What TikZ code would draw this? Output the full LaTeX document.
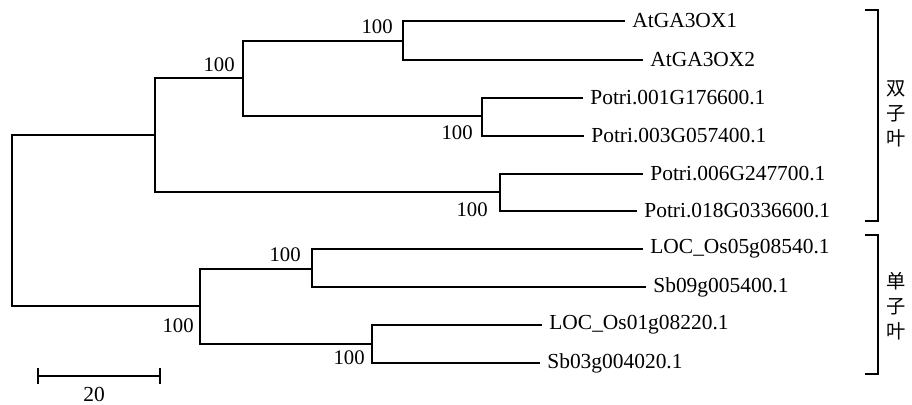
\documentclass[tikz,border=0pt]{standalone}
\usepackage{fontspec}
\setmainfont{Liberation Serif}
\newfontfamily\cjk{Noto Sans CJK SC}
\usetikzlibrary{arrows.meta}
\tikzset{br/.style={line width=1pt},
 lf/.style={anchor=west,inner sep=4pt,font=\fontsize{12.2}{14}\selectfont},
 bs/.style={anchor=east,inner sep=0pt,font=\fontsize{11.8}{14}\selectfont},
 grp/.style={line width=.9pt},
 gtxt/.style={align=center,inner sep=0pt,font=\cjk\fontsize{11}{14.2}\selectfont}}
\begin{document}
\begin{tikzpicture}[x=0.02cm,y=-0.02cm]
\useasboundingbox (0,0) rectangle (912,405);
% inner nodes of the tree
\coordinate (r) at (12,220);
\coordinate (a) at (155,135);
\coordinate (b) at (243,78);
\coordinate (c) at (403,41);
\coordinate (e) at (482,116);
\coordinate (d) at (500,192);
\coordinate (f) at (200,306);
\coordinate (g) at (312,269);
\coordinate (h) at (372,344);
% leaves
\node[lf] (l1) at (625,21) {AtGA3OX1};
\node[lf] (l2) at (643,60) {AtGA3OX2};
\node[lf] (l3) at (583,98) {Potri.001G176600.1};
\node[lf] (l4) at (584,136) {Potri.003G057400.1};
\node[lf] (l5) at (643,174) {Potri.006G247700.1};
\node[lf] (l6) at (637,211) {Potri.018G0336600.1};
\node[lf] (l7) at (643,249) {LOC\_Os05g08540.1};
\node[lf] (l8) at (646,287) {Sb09g005400.1};
\node[lf] (l9) at (542,325) {LOC\_Os01g08220.1};
\node[lf] (l10) at (540,363) {Sb03g004020.1};
% branches
\draw[br] (r) |- (a); \draw[br] (r) |- (f);
\draw[br] (a) |- (b); \draw[br] (a) |- (d);
\draw[br] (b) |- (c); \draw[br] (b) |- (e);
\draw[br] (c) |- (l1.west); \draw[br] (c) |- (l2.west);
\draw[br] (e) |- (l3.west); \draw[br] (e) |- (l4.west);
\draw[br] (d) |- (l5.west); \draw[br] (d) |- (l6.west);
\draw[br] (f) |- (g); \draw[br] (f) |- (h);
\draw[br] (g) |- (l7.west); \draw[br] (g) |- (l8.west);
\draw[br] (h) |- (l9.west); \draw[br] (h) |- (l10.west);
% bootstrap values
\node[bs] (bc) at (393,27) {100};
\node[bs] (bb) at (235,65) {100};
\node[bs] (be) at (473,133) {100};
\node[bs] (bd) at (488,210) {100};
\node[bs] (bg) at (301,255) {100};
\node[bs] (bf) at (194,326) {100};
\node[bs] (bh) at (365,358) {100};
% scale bar
\coordinate (s1) at (37,376);
\coordinate (s2) at (161,376);
\draw[br,{Bar[width=9pt]}-{Bar[width=9pt]}] (s1) -- (s2);
\node[font=\fontsize{12.2}{14}\selectfont,inner sep=0pt] (sl) at (94,394) {20};
% groups
\draw[grp] (865,10) -- (878,10) -- (878,221) -- (865,221);
\node[gtxt] (gd) at (896,114) {双\\子\\叶};
\draw[grp] (865,235) -- (878,235) -- (878,374) -- (865,374);
\node[gtxt] (gm) at (896,306) {单\\子\\叶};
\end{tikzpicture}
\end{document}
